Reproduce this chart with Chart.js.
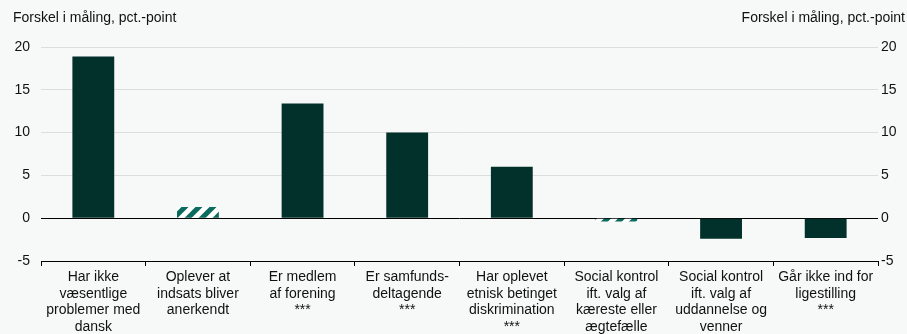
<!DOCTYPE html>
<html lang="da">

<head>
    <meta charset="UTF-8">
    <script src="https://cdn.jsdelivr.net/npm/chart.js"></script>
    <title>Forskel i måling</title>
    <style>
        html, body { margin: 0; padding: 0; background: #f7f9f8; }
        .grafico { width: 907px; height: 334px; position: relative; }
    </style>
</head>

<body>
    <div class="grafico">
        <canvas id="MyChart"></canvas>
    </div>
</body>

</html>
<script>

    // kategorier og forskel i pct.-point
    var kategorier = [
        ['Har ikke', 'væsentlige', 'problemer med', 'dansk'],
        ['Oplever at', 'indsats bliver', 'anerkendt'],
        ['Er medlem', 'af forening', '***'],
        ['Er samfunds-', 'deltagende', '***'],
        ['Har oplevet', 'etnisk betinget', 'diskrimination', '***'],
        ['Social kontrol', 'ift. valg af', 'kæreste eller', 'ægtefælle'],
        ['Social kontrol', 'ift. valg af', 'uddannelse og', 'venner'],
        ['Går ikke ind for', 'ligestilling', '***']
    ];
    var forskel = [18.9, 1.3, 13.4, 10.0, 6.0, -0.4, -2.4, -2.3];
    // ikke signifikante forskelle tegnes skraveret
    var skraveret = [false, true, false, false, false, true, false, false];
    var yTicks = [-5, 0, 5, 10, 15, 20];
    var enhed = 'Forskel i måling, pct.-point';

    var morkGron = '#02302a';
    var skraveGron = '#0b6b5f';

    function lavSkravering() {
        var s = 14;
        var c = document.createElement('canvas');
        c.width = s;
        c.height = s;
        var g = c.getContext('2d');
        g.fillStyle = '#ffffff';
        g.fillRect(0, 0, s, s);
        g.strokeStyle = skraveGron;
        g.lineWidth = 5;
        g.beginPath();
        g.moveTo(-s / 2, s / 2); g.lineTo(s / 2, -s / 2);
        g.moveTo(0, s); g.lineTo(s, 0);
        g.moveTo(s / 2, s * 1.5); g.lineTo(s * 1.5, s / 2);
        g.stroke();
        return g.createPattern(c, 'repeat');
    }

    var skravering = lavSkravering();
    var farver = skraveret.map(function (s) { return s ? skravering : morkGron; });

    var tekstFont = { family: 'Arial, "Liberation Sans", sans-serif', size: 14 };

    // baggrund og enhedstekst i begge hjørner
    var enhedPlugin = {
        id: 'enhed',
        beforeDraw: function (chart) {
            var ctx = chart.ctx;
            ctx.save();
            ctx.fillStyle = '#f7f9f8';
            ctx.fillRect(0, 0, chart.width, chart.height);
            ctx.restore();
        },
        afterDraw: function (chart) {
            var ctx = chart.ctx;
            ctx.save();
            ctx.font = '14px Arial, "Liberation Sans", sans-serif';
            ctx.fillStyle = '#111';
            ctx.textBaseline = 'middle';
            ctx.textAlign = 'left';
            ctx.fillText(enhed, 13, 18);
            ctx.textAlign = 'right';
            ctx.fillText(enhed, 905, 18);
            ctx.restore();
        }
    };

    function fastTicks(scale) {
        scale.ticks = yTicks.map(function (v) { return { value: v }; });
    }

    var config = {
        type: 'bar',
        data: {
            labels: kategorier,
            datasets: [{
                data: forskel,
                backgroundColor: farver,
                borderWidth: 0,
                barPercentage: 0.4,
                categoryPercentage: 1.0
            }]
        },
        options: {
            responsive: true,
            maintainAspectRatio: false,
            animation: false,
            devicePixelRatio: 1,
            layout: { padding: { top: 47, left: 0, right: 0, bottom: 0 } },
            plugins: {
                legend: { display: false },
                tooltip: { enabled: false }
            },
            scales: {
                x: {
                    grid: {
                        offset: true,
                        drawOnChartArea: false,
                        drawTicks: true,
                        tickLength: 5,
                        color: '#000'
                    },
                    border: { display: true, color: '#000', width: 1 },
                    ticks: {
                        color: '#111',
                        font: Object.assign({ lineHeight: 1.18 }, tekstFont),
                        maxRotation: 0,
                        autoSkip: false,
                        padding: 3
                    },
                    afterFit: function (scale) { scale.height = 73; }
                },
                y: {
                    position: 'left',
                    min: -5,
                    max: 20,
                    afterBuildTicks: fastTicks,
                    grid: {
                        drawTicks: false,
                        color: function (c) {
                            if (c.tick.value === 0) return '#000';
                            if (c.tick.value === -5) return 'rgba(0,0,0,0)';
                            return '#dcdedd';
                        }
                    },
                    border: { display: false },
                    ticks: { color: '#111', font: tekstFont, padding: 11 },
                    afterFit: function (scale) { scale.width = 41; }
                },
                y2: {
                    position: 'right',
                    min: -5,
                    max: 20,
                    afterBuildTicks: fastTicks,
                    grid: { display: false, drawTicks: false },
                    border: { display: false },
                    ticks: { color: '#111', font: tekstFont, padding: 3 },
                    afterFit: function (scale) { scale.width = 29; }
                }
            }
        },
        plugins: [enhedPlugin]
    };

    var MyChart = new Chart(document.getElementById('MyChart'), config);

</script>
